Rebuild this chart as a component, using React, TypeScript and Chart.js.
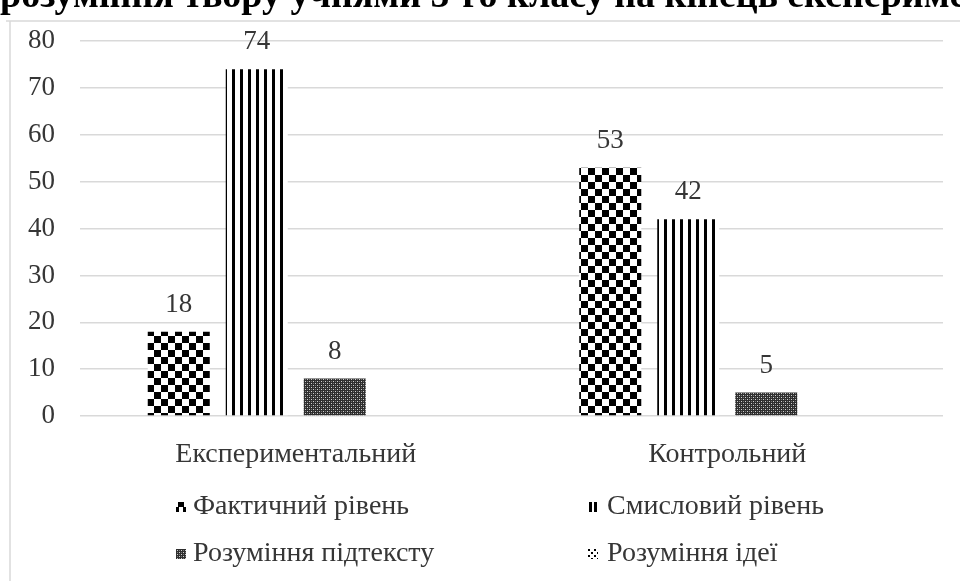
import React, { useEffect, useRef } from "react";
import { Chart, registerables } from "chart.js";

Chart.register(...registerables);

const titleText = "розуміння твору учнями 5-го класу на кінець експерименту";
const categories = ["Експериментальний", "Контрольний"];
const seriesNames = ["Фактичний рівень", "Смисловий рівень", "Розуміння підтексту", "Розуміння ідеї"];
const factualLevel = [18, 53];
const semanticLevel = [74, 42];
const subtextLevel = [8, 5];
const ideaLevel: (number | null)[] = [null, null];
const yMin = 0;
const yMax = 80;
const yStep = 10;

const FONT = "'Liberation Serif', 'Times New Roman', serif";
const TEXT = "#363636";
const GRID = "#d9d9d9";

function makePattern(ctx: CanvasRenderingContext2D, w: number, h: number, draw: (g: CanvasRenderingContext2D) => void) {
  const c = document.createElement("canvas");
  c.width = w;
  c.height = h;
  const g = c.getContext("2d")!;
  draw(g);
  return ctx.createPattern(c, "repeat")!;
}

export default function App() {
  const ref = useRef<HTMLCanvasElement | null>(null);

  useEffect(() => {
    document.body.style.margin = "0";
    const canvas = ref.current!;
    const ctx = canvas.getContext("2d")!;

    const checker = makePattern(ctx, 14, 14, (g) => {
      g.fillStyle = "#fff";
      g.fillRect(0, 0, 14, 14);
      g.fillStyle = "#000";
      g.fillRect(0, 0, 7, 7);
      g.fillRect(7, 7, 7, 7);
    });
    const stripes = makePattern(ctx, 8, 4, (g) => {
      g.fillStyle = "#fff";
      g.fillRect(0, 0, 8, 4);
      g.fillStyle = "#000";
      g.fillRect(0, 0, 3, 4);
    });
    const dense = makePattern(ctx, 4, 4, (g) => {
      g.fillStyle = "#2e2e2e";
      g.fillRect(0, 0, 4, 4);
      g.fillStyle = "#cfcfcf";
      g.fillRect(1, 1, 1, 1);
      g.fillRect(3, 3, 1, 1);
      g.fillStyle = "#777";
      g.fillRect(3, 1, 1, 1);
      g.fillRect(1, 3, 1, 1);
    });
    const dots = makePattern(ctx, 6, 6, (g) => {
      g.fillStyle = "#fff";
      g.fillRect(0, 0, 6, 6);
      g.fillStyle = "#000";
      g.fillRect(0, 0, 2, 2);
      g.fillRect(3, 3, 2, 2);
    });

    const drawSwatch = (c: CanvasRenderingContext2D, i: number, x: number, y: number) => {
      c.fillStyle = "#000";
      if (i === 0) {
        c.fillRect(x + 2, y, 6, 5);
        c.fillRect(x, y + 5, 3, 5);
        c.fillRect(x + 7, y + 5, 3, 5);
      } else if (i === 1) {
        c.fillRect(x + 1, y, 3, 10);
        c.fillRect(x + 6, y, 3, 10);
      } else if (i === 2) {
        c.save();
        c.translate(x, y);
        c.fillStyle = dense;
        c.fillRect(0, 0, 10, 10);
        c.restore();
      } else {
        c.save();
        c.translate(x, y);
        c.fillStyle = dots;
        c.fillRect(0, 0, 10, 10);
        c.restore();
      }
    };

    const decor = {
      id: "decor",
      beforeDraw(chart: any) {
        const c = chart.ctx;
        c.save();
        c.fillStyle = "#fff";
        c.fillRect(0, 0, chart.width, chart.height);
        c.strokeStyle = GRID;
        c.lineWidth = 1.5;
        c.beginPath();
        c.moveTo(6, 21);
        c.lineTo(chart.width, 21);
        c.moveTo(10, 21);
        c.lineTo(10, chart.height);
        c.stroke();
        c.fillStyle = "#000";
        c.font = `bold 38px ${FONT}`;
        c.textAlign = "left";
        c.textBaseline = "alphabetic";
        c.fillText(titleText, 0, 7);
        c.restore();
      },
      afterDatasetsDraw(chart: any) {
        const c = chart.ctx;
        c.save();
        c.fillStyle = TEXT;
        c.font = `27px ${FONT}`;
        c.textAlign = "center";
        c.textBaseline = "alphabetic";
        chart.data.datasets.forEach((ds: any, di: number) => {
          const meta = chart.getDatasetMeta(di);
          meta.data.forEach((bar: any, i: number) => {
            const v = ds.data[i];
            if (v === null || v === undefined) return;
            c.fillText(String(v), bar.x, bar.y - 20);
          });
        });
        c.restore();
      },
      afterDraw(chart: any) {
        const c = chart.ctx;
        c.save();
        c.font = `28px ${FONT}`;
        c.textBaseline = "alphabetic";
        c.textAlign = "left";
        const cols = [176, 588];
        const textX = [193, 607];
        const rows = [514, 561];
        seriesNames.forEach((name, i) => {
          const col = i % 2;
          const row = Math.floor(i / 2);
          drawSwatch(c, i, cols[col], rows[row] - 12);
          c.fillStyle = TEXT;
          c.fillText(name, textX[col], rows[row]);
        });
        c.restore();
      },
    };

    const chart = new Chart(canvas, {
      type: "bar",
      data: {
        labels: categories,
        datasets: [
          { label: seriesNames[0], data: factualLevel, backgroundColor: checker },
          { label: seriesNames[1], data: semanticLevel, backgroundColor: stripes },
          { label: seriesNames[2], data: subtextLevel, backgroundColor: dense },
          { label: seriesNames[3], data: ideaLevel, backgroundColor: dots },
        ],
      },
      options: {
        animation: false,
        responsive: false,
        maintainAspectRatio: false,
        layout: { padding: { left: 10, right: 17, top: 39, bottom: 0 } },
        datasets: { bar: { categoryPercentage: 0.723, barPercentage: 0.795 } },
        plugins: {
          legend: { display: false },
          title: { display: false },
          tooltip: { enabled: false },
        },
        scales: {
          x: {
            grid: { display: false },
            border: { display: false },
            ticks: { font: { family: FONT, size: 28 }, color: TEXT, padding: 14 },
            afterFit: (s: any) => {
              s.height = 165;
            },
          },
          y: {
            min: yMin,
            max: yMax,
            grid: { color: GRID, lineWidth: 1.5, drawTicks: false },
            border: { display: false },
            ticks: { stepSize: yStep, font: { family: FONT, size: 27 }, color: TEXT, padding: 25 },
            afterFit: (s: any) => {
              s.width = 70;
            },
          },
        },
      },
      plugins: [decor],
    } as any);

    return () => chart.destroy();
  }, []);

  return (
    <div style={{ width: 960, height: 581, position: "relative", overflow: "hidden" }}>
      <canvas ref={ref} width={960} height={581} style={{ display: "block", width: 960, height: 581 }} />
    </div>
  );
}
